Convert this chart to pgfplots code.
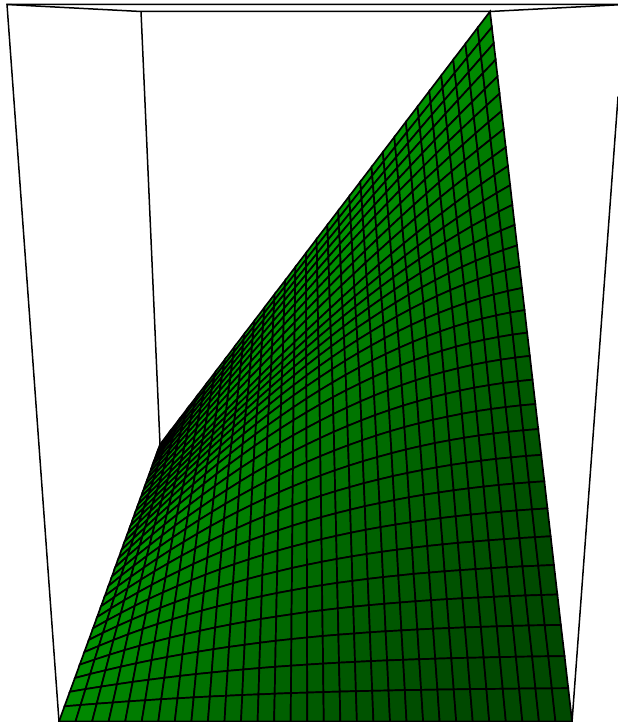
\documentclass[border=0pt]{standalone}
\usepackage{pgfplots}
\pgfplotsset{compat=1.18}
\begin{document}
\begin{tikzpicture}
\begin{axis}[
    scale only axis,
    width=618pt,
    height=722pt,
    hide axis,
    view={0}{90},
    xmin=0, xmax=618,
    ymin=0.5, ymax=722.5,
    zmin=-1, zmax=1,
    y dir=reverse,
    clip=true,
    colormap={greens}{rgb255(0)=(0,0,0); rgb255(255)=(0,255,0)},
    point meta min=0,
    point meta max=255,
]
% keeps the page at the full picture size
\addplot3[draw=none] coordinates {(0,0.5,0) (618,722.5,0)};
% box edges behind the surface
\addplot3[black, line width=1.5pt] coordinates {(59,722,0) (7,5,0) (618,5,0)};
\addplot3[black, line width=1.5pt] coordinates {(618,97,0) (572,722,0)};
\addplot3[black, line width=1.5pt] coordinates {(7,5,0) (141,12,0) (490,12,0) (618,5.3,0)};
\addplot3[black, line width=1.5pt] coordinates {(141,12,0) (160,445,0)};
\addplot3[
    surf,
    shader=faceted,
    faceted color=black,
    line width=1.7pt,
    mesh/cols=32,
    point meta={72+78*max(0,1-(x+0.62*y-470)/430)*(0.5+0.5*max(0,1-(x+0.62*y-470)/430))},
] table[x index=0, y index=1, z expr=0] {
59.0 722
75.5 722
92.1 722
108.6 722
125.2 722
141.7 722
158.3 722
174.8 722
191.4 722
207.9 722
224.5 722
241.0 722
257.6 722
274.1 722
290.7 722
307.2 722
323.8 722
340.3 722
356.9 722
373.4 722
390.0 722
406.5 722
423.1 722
439.6 722
456.2 722
472.7 722
489.2 722
505.8 722
522.3 722
538.9 722
555.4 722
572.0 722

64.5 706.8
80.6 705.5
96.7 704.2
112.9 703.0
129.0 701.8
145.2 700.8
161.3 699.7
177.5 698.8
193.7 697.9
209.9 697.0
226.0 696.3
242.3 695.5
258.5 694.9
274.7 694.2
290.9 693.6
307.2 693.1
323.4 692.6
339.7 692.1
355.9 691.7
372.2 691.3
388.5 691.0
404.8 690.6
421.1 690.4
437.4 690.1
453.7 689.9
470.0 689.6
486.4 689.5
502.7 689.3
519.1 689.1
535.4 689.0
551.8 688.9
568.2 688.8

69.8 692.3
85.5 689.6
101.2 687.1
117.0 684.7
132.7 682.4
148.5 680.3
164.3 678.3
180.1 676.4
195.9 674.6
211.7 673.0
227.6 671.4
243.4 670.0
259.3 668.6
275.2 667.3
291.2 666.2
307.1 665.1
323.1 664.1
339.0 663.2
355.0 662.4
371.0 661.6
387.1 660.9
403.1 660.3
419.2 659.7
435.2 659.2
451.3 658.7
467.5 658.3
483.6 658.0
499.7 657.6
515.9 657.3
532.1 657.0
548.3 656.8
564.5 656.6

74.9 678.5
90.2 674.5
105.5 670.8
120.9 667.2
136.2 663.8
151.6 660.6
167.1 657.6
182.5 654.8
198.0 652.2
213.5 649.7
229.0 647.4
244.6 645.3
260.1 643.2
275.7 641.3
291.4 639.6
307.0 638.0
322.7 636.5
338.4 635.2
354.1 634.0
369.9 632.8
385.6 631.8
401.4 630.9
417.3 630.0
433.1 629.2
449.0 628.6
464.9 627.9
480.8 627.4
496.8 626.9
512.8 626.4
528.7 626.0
544.7 625.7
560.8 625.4

79.7 665.2
94.6 660.1
109.6 655.2
124.6 650.6
139.6 646.3
154.6 642.2
169.7 638.3
184.8 634.7
200.0 631.3
215.2 628.0
230.4 625.0
245.6 622.2
260.9 619.5
276.2 617.1
291.5 614.8
306.9 612.6
322.3 610.7
337.8 608.9
353.3 607.2
368.8 605.7
384.3 604.3
399.9 603.0
415.5 601.8
431.1 600.7
446.8 599.7
462.4 598.8
478.2 598.1
493.9 597.3
509.7 596.6
525.5 596.0
541.4 595.5
557.3 595.0

84.3 652.6
98.9 646.4
113.5 640.5
128.1 634.8
142.8 629.5
157.5 624.5
172.3 619.8
187.1 615.3
201.9 611.1
216.8 607.1
231.7 603.4
246.7 600.0
261.7 596.7
276.7 593.6
291.8 590.8
306.9 588.1
322.0 585.7
337.2 583.4
352.4 581.4
367.7 579.4
383.0 577.6
398.3 576.0
413.6 574.4
429.1 573.1
444.6 571.8
460.1 570.7
475.6 569.6
491.2 568.7
506.8 567.7
522.5 566.9
538.2 566.2
553.9 565.5

88.8 640.4
103.0 633.3
117.3 626.6
131.6 620.2
146.0 614.1
160.4 608.3
174.8 602.8
189.3 597.6
203.9 592.7
218.4 588.0
233.1 583.7
247.7 579.5
262.4 575.6
277.2 572.0
292.0 568.5
306.9 565.3
321.8 562.3
336.7 559.5
351.7 556.9
366.7 554.5
381.8 552.3
396.9 550.2
412.1 548.3
427.3 546.5
442.6 544.9
457.9 543.4
473.2 542.1
488.6 540.8
504.0 539.7
519.5 538.6
535.0 537.7
550.6 536.8

93.0 628.8
106.9 621.0
120.9 613.5
134.8 606.3
148.9 599.4
163.0 592.9
177.2 586.7
191.4 580.8
205.6 575.1
219.9 569.8
234.3 564.7
248.7 559.9
263.1 555.4
277.6 551.1
292.2 547.1
306.8 543.3
321.5 539.7
336.2 536.4
350.9 533.2
365.7 530.3
380.6 527.6
395.5 525.1
410.5 522.8
425.5 520.6
440.5 518.6
455.7 516.8
470.8 515.1
486.0 513.6
501.3 512.2
516.6 511.0
532.0 509.9
547.4 508.9

97.1 617.6
110.7 609.0
124.3 600.8
138.0 592.9
151.8 585.3
165.6 578.1
179.5 571.2
193.4 564.5
207.4 558.2
221.4 552.2
235.5 546.4
249.6 541.0
263.8 535.8
278.1 530.9
292.4 526.2
306.8 521.8
321.2 517.7
335.7 513.8
350.2 510.2
364.8 506.7
379.5 503.6
394.2 500.6
408.9 497.8
423.7 495.3
438.6 493.0
453.6 490.8
468.5 488.9
483.6 487.1
498.7 485.5
513.8 484.1
529.0 482.9
544.3 481.8

101.0 606.8
114.3 597.6
127.6 588.7
141.0 580.1
154.5 571.8
168.0 563.9
181.6 556.2
195.3 548.9
209.0 541.9
222.8 535.2
236.6 528.8
250.5 522.6
264.4 516.8
278.5 511.3
292.5 506.0
306.7 501.0
320.9 496.3
335.1 491.8
349.5 487.7
363.8 483.7
378.3 480.1
392.8 476.6
407.4 473.5
422.0 470.6
436.7 467.9
451.4 465.4
466.2 463.2
481.1 461.2
496.0 459.4
511.0 457.9
526.1 456.5
541.2 455.4

104.8 596.5
117.8 586.7
130.9 577.2
144.0 568.0
157.2 559.1
170.4 550.5
183.8 542.3
197.2 534.3
210.6 526.6
224.1 519.3
237.7 512.2
251.4 505.4
265.1 499.0
278.9 492.8
292.7 486.9
306.6 481.3
320.6 476.0
334.7 470.9
348.8 466.2
362.9 461.7
377.2 457.6
391.5 453.7
405.9 450.0
420.3 446.7
434.8 443.6
449.4 440.8
464.0 438.3
478.7 436.0
493.5 434.0
508.4 432.3
523.2 430.8
538.2 429.6

108.4 586.5
121.1 576.2
133.9 566.2
146.8 556.5
159.7 547.1
172.7 538.0
185.8 529.1
198.9 520.5
212.1 512.3
225.4 504.3
238.8 496.6
252.2 489.2
265.7 482.1
279.2 475.3
292.9 468.8
306.6 462.6
320.3 456.7
334.2 451.1
348.1 445.8
362.1 440.8
376.1 436.1
390.2 431.7
404.4 427.6
418.7 423.8
433.0 420.3
447.4 417.2
461.9 414.3
476.4 411.7
491.1 409.5
505.7 407.6
520.5 405.9
535.3 404.6

111.9 577.0
124.4 566.3
136.9 555.9
149.5 545.8
162.2 535.9
174.9 526.2
187.8 516.9
200.7 507.8
213.6 498.9
226.7 490.4
239.8 482.1
253.0 474.1
266.3 466.4
279.6 459.0
293.0 451.9
306.5 445.1
320.1 438.6
333.8 432.3
347.5 426.5
361.3 420.9
375.1 415.6
389.1 410.7
403.1 406.1
417.2 401.9
431.3 398.0
445.6 394.4
459.9 391.1
474.2 388.2
488.7 385.7
503.2 383.5
517.8 381.7
532.5 380.2

115.2 567.7
127.4 556.7
139.7 546.0
152.1 535.4
164.5 525.1
177.0 515.1
189.6 505.2
202.3 495.6
215.0 486.3
227.9 477.2
240.8 468.3
253.8 459.8
266.8 451.5
280.0 443.5
293.2 435.8
306.5 428.4
319.9 421.3
333.3 414.5
346.8 408.1
360.5 401.9
374.1 396.1
387.9 390.7
401.7 385.6
415.7 380.8
429.7 376.4
443.7 372.4
457.9 368.8
472.1 365.5
486.4 362.6
500.8 360.2
515.2 358.1
529.8 356.4

118.5 558.8
130.5 547.6
142.5 536.6
154.6 525.7
166.8 515.1
179.1 504.6
191.5 494.4
203.9 484.3
216.5 474.5
229.1 464.9
241.8 455.5
254.5 446.4
267.4 437.6
280.3 429.0
293.4 420.7
306.5 412.8
319.6 405.1
332.9 397.7
346.2 390.7
359.7 384.0
373.2 377.6
386.8 371.6
400.4 366.0
414.2 360.7
428.0 355.8
441.9 351.3
455.9 347.2
470.0 343.5
484.2 340.3
498.4 337.5
512.7 335.1
527.1 333.2

121.6 550.3
133.3 539.1
145.1 528.0
157.0 516.9
169.0 506.1
181.1 495.4
193.3 484.8
205.5 474.4
217.8 464.2
230.2 454.2
242.7 444.4
255.3 434.9
267.9 425.6
280.7 416.5
293.5 407.7
306.4 399.1
319.4 390.9
332.5 383.0
345.7 375.3
358.9 368.1
372.2 361.1
385.7 354.5
399.2 348.3
412.8 342.4
426.4 336.9
440.2 331.9
454.0 327.2
468.0 322.9
482.0 319.2
496.1 315.9
510.2 313.0
524.5 310.6

124.6 542.0
136.1 530.8
147.7 519.7
159.4 508.6
171.1 497.6
183.0 486.8
194.9 476.0
207.0 465.4
219.1 454.9
231.3 444.6
243.6 434.5
256.0 424.5
268.4 414.8
281.0 405.2
293.6 395.9
306.3 386.9
319.2 378.1
332.1 369.6
345.0 361.4
358.1 353.5
371.3 346.0
384.6 338.7
397.9 331.9
411.3 325.4
424.8 319.3
438.4 313.6
452.1 308.3
466.0 303.4
479.8 299.0
493.7 295.0
507.8 291.5
521.9 288.5

127.6 534.0
138.9 522.9
150.3 511.9
161.7 500.9
173.3 489.9
184.9 478.9
196.7 468.1
208.5 457.3
220.4 446.6
232.4 436.0
244.5 425.6
256.7 415.3
269.0 405.2
281.3 395.3
293.8 385.6
306.4 376.1
319.0 366.8
331.7 357.8
344.5 349.0
357.4 340.5
370.5 332.4
383.5 324.5
396.7 317.0
410.0 309.8
423.4 303.0
436.8 296.6
450.3 290.6
464.0 285.0
477.7 279.8
491.5 275.1
505.4 270.8
519.4 267.0

130.4 526.2
141.5 515.3
152.7 504.3
163.9 493.3
175.3 482.4
186.7 471.4
198.3 460.5
209.9 449.5
221.6 438.7
233.4 428.0
245.3 417.3
257.3 406.8
269.4 396.3
281.6 386.1
293.9 376.0
306.3 366.0
318.8 356.3
331.3 346.8
344.0 337.5
356.7 328.5
369.6 319.8
382.5 311.3
395.6 303.1
408.7 295.2
421.9 287.8
435.2 280.6
448.6 273.8
462.1 267.3
475.7 261.3
489.4 255.8
503.1 250.6
517.0 245.9

133.1 518.8
144.0 508.1
155.0 497.3
166.0 486.4
177.2 475.4
188.4 464.5
199.8 453.5
211.2 442.5
222.8 431.6
234.4 420.7
246.1 409.8
258.0 399.0
269.9 388.4
281.9 377.8
294.0 367.3
306.2 357.0
318.5 346.9
330.9 336.9
343.4 327.1
356.0 317.5
368.7 308.2
381.5 299.1
394.4 290.2
407.4 281.7
420.4 273.4
433.6 265.5
446.9 257.9
460.2 250.6
473.7 243.7
487.2 237.2
500.9 231.1
514.6 225.4

135.7 511.5
146.4 500.9
157.2 490.2
168.0 479.4
179.0 468.5
190.1 457.5
201.3 446.5
212.5 435.5
223.9 424.5
235.3 413.4
246.9 402.4
258.6 391.4
270.3 380.5
282.2 369.7
294.1 358.9
306.2 348.2
318.3 337.7
330.6 327.3
342.9 317.1
355.4 307.0
367.9 297.1
380.5 287.4
393.3 277.9
406.1 268.7
419.0 259.7
432.1 251.0
445.2 242.6
458.4 234.5
471.7 226.6
485.2 219.2
498.7 212.1
512.3 205.3

138.3 504.5
148.8 494.0
159.4 483.4
170.1 472.6
180.9 461.7
191.8 450.8
202.8 439.8
213.9 428.7
225.1 417.6
236.4 406.4
247.8 395.3
259.2 384.1
270.8 373.0
282.5 361.9
294.3 350.8
306.2 339.9
318.2 329.0
330.3 318.2
342.5 307.5
354.8 296.9
367.2 286.5
379.7 276.2
392.3 266.1
405.0 256.2
417.8 246.5
430.7 237.1
443.6 227.8
456.7 218.8
469.9 210.1
483.2 201.7
496.6 193.5
510.1 185.7

140.8 497.7
151.1 487.2
161.5 476.6
172.0 465.9
182.7 455.0
193.4 444.0
204.2 432.9
215.1 421.8
226.2 410.6
237.3 399.3
248.5 388.0
259.8 376.6
271.3 365.3
282.8 353.9
294.5 342.6
306.2 331.3
318.0 320.1
330.0 308.9
342.0 297.8
354.2 286.8
366.4 275.8
378.8 265.0
391.2 254.4
403.8 243.9
416.5 233.5
429.2 223.3
442.1 213.3
455.0 203.5
468.1 193.9
481.3 184.6
494.5 175.4
507.9 166.6

143.2 491.1
153.3 480.4
163.6 469.6
173.9 458.6
184.4 447.5
194.9 436.2
205.6 424.9
216.3 413.5
227.2 402.0
238.2 390.4
249.2 378.8
260.4 367.2
271.7 355.5
283.1 343.9
294.6 332.2
306.1 320.6
317.8 309.0
329.6 297.4
341.5 285.9
353.6 274.5
365.6 263.1
377.9 251.9
390.2 240.8
402.6 229.8
415.1 218.9
427.8 208.2
440.5 197.6
453.3 187.2
466.3 177.1
479.3 167.1
492.5 157.3
505.7 147.8

145.5 484.8
155.5 473.9
165.5 462.9
175.7 451.7
186.0 440.4
196.4 429.0
206.9 417.4
217.5 405.8
228.2 394.1
239.0 382.3
249.9 370.4
261.0 358.5
272.1 346.6
283.3 334.7
294.7 322.7
306.1 310.8
317.7 298.8
329.3 286.9
341.1 275.0
353.0 263.2
364.9 251.4
377.0 239.7
389.2 228.1
401.5 216.6
413.9 205.3
426.4 194.0
439.0 182.8
451.7 171.8
464.5 161.0
477.5 150.4
490.5 139.9
503.6 129.6

147.8 478.6
157.6 467.5
167.5 456.3
177.5 444.9
187.6 433.4
197.9 421.8
208.2 410.1
218.7 398.2
229.2 386.3
239.9 374.3
250.7 362.2
261.5 350.1
272.5 337.9
283.6 325.6
294.8 313.4
306.1 301.1
317.5 288.8
329.0 276.6
340.6 264.3
352.4 252.1
364.2 239.9
376.1 227.8
388.2 215.7
400.4 203.7
412.6 191.8
425.0 179.9
437.5 168.3
450.1 156.6
462.8 145.2
475.6 133.8
488.5 122.6
501.5 111.6

150.0 472.6
159.6 461.4
169.4 450.0
179.3 438.4
189.2 426.7
199.3 414.9
209.5 403.0
219.8 390.9
230.2 378.8
240.7 366.6
251.3 354.2
262.1 341.9
272.9 329.4
283.8 316.9
294.9 304.4
306.1 291.8
317.3 279.2
328.7 266.6
340.2 254.0
351.8 241.4
363.5 228.8
375.3 216.2
387.3 203.7
399.3 191.2
411.5 178.8
423.8 166.4
436.1 154.1
448.5 141.9
461.1 129.8
473.8 117.8
486.6 105.9
499.5 94.1

152.1 466.7
161.6 455.3
171.2 443.8
180.9 432.1
190.7 420.3
200.7 408.3
210.7 396.3
220.8 384.1
231.1 371.8
241.5 359.4
252.0 346.9
262.5 334.3
273.2 321.6
284.1 308.9
295.0 296.1
306.0 283.2
317.2 270.3
328.4 257.4
339.8 244.4
351.2 231.5
362.8 218.5
374.5 205.5
386.3 192.5
398.2 179.5
410.3 166.5
422.4 153.6
434.6 140.7
447.0 127.8
459.4 115.0
472.0 102.3
484.7 89.6
497.5 77.0

154.1 461.1
163.5 449.6
172.9 437.9
182.5 426.1
192.1 414.2
201.9 402.1
211.8 389.9
221.9 377.5
232.0 365.0
242.2 352.5
252.6 339.8
263.0 327.0
273.6 314.1
284.3 301.1
295.1 288.1
306.0 275.0
317.0 261.8
328.1 248.5
339.4 235.2
350.7 221.9
362.2 208.5
373.7 195.0
385.5 181.6
397.2 168.1
409.1 154.6
421.1 141.1
433.3 127.6
445.5 114.1
457.9 100.6
470.3 87.1
482.9 73.6
495.6 60.2

156.2 455.6
165.4 444.0
174.7 432.3
184.1 420.4
193.7 408.3
203.3 396.2
213.1 383.8
223.0 371.4
232.9 358.8
243.0 346.1
253.2 333.2
263.6 320.3
274.0 307.2
284.6 294.1
295.2 280.8
306.0 267.4
316.9 254.0
327.9 240.4
339.0 226.8
350.2 213.1
361.6 199.3
373.0 185.4
384.6 171.5
396.2 157.5
408.0 143.4
419.9 129.3
431.9 115.2
444.1 101.0
456.3 86.7
468.7 72.4
481.1 58.1
493.7 43.8

158.1 450.2
167.2 438.5
176.3 426.7
185.6 414.8
195.0 402.6
204.5 390.4
214.2 377.9
223.9 365.4
233.8 352.7
243.7 339.9
253.8 326.9
264.0 313.8
274.3 300.6
284.7 287.2
295.3 273.8
305.9 260.2
316.7 246.4
327.6 232.6
338.6 218.6
349.7 204.6
360.9 190.4
372.2 176.1
383.7 161.7
395.2 147.2
406.9 132.6
418.7 117.9
430.6 103.1
442.6 88.2
454.7 73.3
467.0 58.2
479.3 43.0
491.8 27.8

160.0 445.0
168.9 433.3
178.0 421.4
187.1 409.4
196.4 397.3
205.8 385.0
215.3 372.5
224.9 359.9
234.6 347.1
244.4 334.2
254.4 321.2
264.5 307.9
274.6 294.6
285.0 281.1
295.4 267.4
305.9 253.6
316.5 239.6
327.3 225.5
338.2 211.2
349.2 196.8
360.3 182.2
371.5 167.5
382.8 152.6
394.3 137.6
405.8 122.4
417.5 107.1
429.3 91.6
441.2 76.0
453.2 60.2
465.4 44.3
477.6 28.2
490.0 12.0
};
\end{axis}
\end{tikzpicture}
\end{document}
